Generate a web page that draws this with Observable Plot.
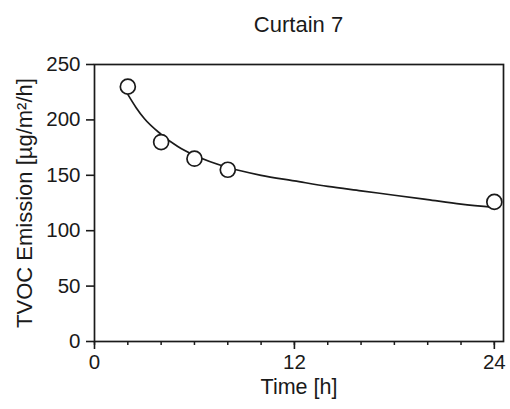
<!DOCTYPE html>
<html>
<head>
<meta charset="utf-8">
<script src="https://cdn.jsdelivr.net/npm/d3@7"></script>
<script src="https://cdn.jsdelivr.net/npm/@observablehq/plot@0.6"></script>
<style>
  body { margin: 0; background: #fff; font-family: "Liberation Sans", Arial, sans-serif; }
  #title { height: 44px; box-sizing: border-box; padding-left: 94px; padding-right: 7px; text-align: center; font-size: 22px; line-height: 22px; padding-top: 14px; color: #1a1a1a; }
</style>
</head>
<body>
<div id="title">Curtain 7</div>
<div id="chart"></div>
<script>
const chartTitle = "Curtain 7";
const xLabel = "Time [h]";
const yLabel = "TVOC Emission [µg/m²/h]";
const times = [2, 4, 6, 8, 24];
const emission = [230, 180, 165, 155, 126];
const fitTime = [2, 2.5, 3, 4, 5, 6, 8, 10, 12, 14, 16, 18, 20, 22, 24];
const fitValue = [223, 211, 201, 187, 176, 168, 157, 150, 145, 140, 136, 132, 128, 124, 121];
const xMajorTicks = [0, 12, 24];
const xMinorTicks = [0, 2, 4, 6, 8, 10, 12, 14, 16, 18, 20, 22, 24];
const yTicks = [0, 50, 100, 150, 200, 250];

document.getElementById("title").textContent = chartTitle;

const points = times.map((t, i) => ({t, v: emission[i]}));
const fit = fitTime.map((t, i) => ({t, v: fitValue[i]}));

const ink = "#1a1a1a";
const chart = Plot.plot({
  width: 510,
  height: 365,
  marginTop: 20,
  marginBottom: 68,
  marginLeft: 94,
  marginRight: 7,
  style: {fontFamily: "'Liberation Sans', Arial, sans-serif", fontSize: "20px", color: ink, background: "#fff", overflow: "visible"},
  x: {domain: [0, 24.55]},
  y: {domain: [0, 250]},
  marks: [
    Plot.frame({stroke: ink, strokeWidth: 1.7}),
    Plot.axisX(xMinorTicks, {tickSize: 4, tickFormat: () => "", label: null, stroke: ink, strokeWidth: 1.5}),
    Plot.axisX(xMajorTicks, {tickSize: 8, tickPadding: 5, label: null, stroke: ink, strokeWidth: 1.6, fontSize: 20.5, fill: ink}),
    Plot.axisY(yTicks, {tickSize: 8, tickPadding: 6, label: null, stroke: ink, strokeWidth: 1.6, fontSize: 20.5, fill: ink}),
    Plot.line(fit, {x: "t", y: "v", curve: "monotone-x", stroke: ink, strokeWidth: 1.7}),
    Plot.dot(points, {x: "t", y: "v", r: 7.5, stroke: ink, strokeWidth: 1.7, fill: "white"}),
    Plot.text([xLabel], {frameAnchor: "bottom", dy: 52, text: d => d, fontSize: 21.5, fill: ink}),
    Plot.text([yLabel], {frameAnchor: "left", textAnchor: "middle", dx: -70, rotate: -90, text: d => d, fontSize: 22, fill: ink})
  ]
});
document.getElementById("chart").appendChild(chart);
</script>
</body>
</html>
